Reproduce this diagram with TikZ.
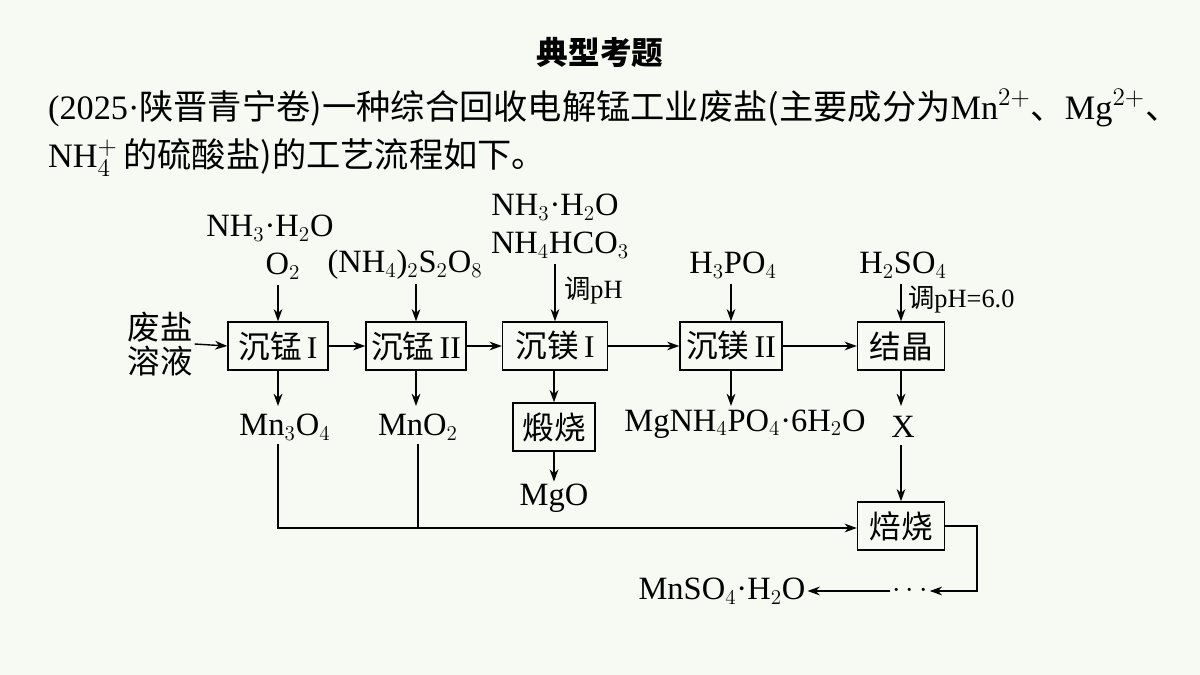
\documentclass[tikz,border=0pt]{standalone}
\usepackage{fontspec}
\setmainfont{Liberation Serif}
\newfontfamily\cjk{Noto Sans CJK SC}
\usetikzlibrary{arrows.meta}
\definecolor{paper}{RGB}{246,250,242}
\tikzset{
  stage/.style={draw, line width=0.8pt, minimum height=0.96cm, inner sep=2pt, font=\fontsize{18}{20}\selectfont},
  chem/.style={font=\fontsize{18.5}{21}\selectfont, inner sep=1pt},
  prose/.style={font=\fontsize{19.5}{22}\selectfont, inner sep=1pt},
  flow/.style={line width=0.8pt, -{Stealth[length=7pt,width=5pt]}},
  pipe/.style={line width=0.8pt}
}
\begin{document}
\begin{tikzpicture}[x=0.02cm,y=-0.02cm]
    % Canvas
    \fill[paper] (0,0) rectangle (1200,675);
    \useasboundingbox (0,0) rectangle (1200,675);

    % Heading and question text
    \node (title) at (600,52) {\fontsize{18}{20}\selectfont\cjk\bfseries 典型考题};
    \node[anchor=west, prose] (line1) at (46,108) {(2025·{\cjk 陕晋青宁卷)一种综合回收电解锰工业废盐(主要成分为}Mn$^{2+}${\cjk 、}Mg$^{2+}${\cjk 、}};
    \node[anchor=west, prose] (line2) at (46,158) {NH$_4^+$\,{\cjk 的硫酸盐)的工艺流程如下。}};

    % Stages
    \node[stage, minimum width=2cm] (mn1) at (278,346) {{\cjk 沉锰}\,I};
    \node[stage, minimum width=2cm] (mn2) at (416,346) {{\cjk 沉锰}\,II};
    \node[stage, minimum width=2.1cm] (mg1) at (555,346) {{\cjk 沉镁}\,I};
    \node[stage, minimum width=2.04cm] (mg2) at (731,346) {{\cjk 沉镁}\,II};
    \node[stage, minimum width=1.74cm] (cry) at (901,346) {\cjk 结晶};
    \node[stage, minimum width=1.64cm] (calc) at (554,427) {\cjk 煅烧};
    \node[stage, minimum width=1.74cm] (roast) at (901,526) {\cjk 焙烧};

    % Feed and reagents
    \node[chem, align=center] (feed) at (160,344) {\cjk 废盐\\[-2pt]\cjk 溶液};
    \node[chem] (r1a) at (270,228) {NH$_3$·H$_2$O};
    \node[chem] (r1b) at (283,266) {O$_2$};
    \node[chem] (r2) at (405,265) {(NH$_4$)$_2$S$_2$O$_8$};
    \node[chem] (r3a) at (555,207) {NH$_3$·H$_2$O};
    \node[chem] (r3b) at (560,245) {NH$_4$HCO$_3$};
    \node[chem] (r4) at (733,265) {H$_3$PO$_4$};
    \node[chem] (r5) at (903,265) {H$_2$SO$_4$};
    \node[chem, anchor=west, font=\fontsize{15}{17}\selectfont] (ph1) at (562,291) {{\cjk 调}pH};
    \node[chem, anchor=west, font=\fontsize{15}{17}\selectfont] (ph2) at (906,300) {{\cjk 调}pH=6.0};

    % Products
    \node[chem] (p1) at (285,427) {Mn$_3$O$_4$};
    \node[chem] (p2) at (418,427) {MnO$_2$};
    \node[chem] (p3) at (745,424) {MgNH$_4$PO$_4$·6H$_2$O};
    \node[chem] (px) at (903,427) {X};
    \node[chem] (mgo) at (554,498) {MgO};
    \node[chem] (dots) at (910,591) {$\cdots$};
    \node[chem] (final) at (722,591) {MnSO$_4$·H$_2$O};

    \coordinate (j1) at (278,528);
    \coordinate (j2) at (418,528);
    \coordinate (c1) at (977,526);
    \coordinate (c2) at (977,591);

    % Main line
    \draw[flow] (feed.east) -- (mn1.west);
    \draw[flow] (mn1) -- (mn2);
    \draw[flow] (mn2) -- (mg1);
    \draw[flow] (mg1) -- (mg2);
    \draw[flow] (mg2) -- (cry);

    % Reagent feeds
    \draw[flow] (278,285) -- (mn1.north);
    \draw[flow] (416,284) -- (mn2.north);
    \draw[flow] (555,264) -- (mg1.north);
    \draw[flow] (731,284) -- (mg2.north);
    \draw[flow] (901,284) -- (cry.north);

    % Products out
    \draw[flow] (mn1.south) -- (278,406);
    \draw[flow] (mn2.south) -- (416,406);
    \draw[flow] (mg1.south -| calc.north) -- (calc.north);
    \draw[flow] (mg2.south) -- (731,406);
    \draw[flow] (cry.south) -- (901,406);
    \draw[flow] (calc.south) -- (mgo.north);

    % Recycle to roasting
    \draw[pipe] (278,444) -- (j1) -- (j2);
    \draw[pipe] (418,444) -- (j2);
    \draw[flow] (j2) -- (j2 -| roast.west);
    \draw[flow] (901,445) -- (roast.north);
    \draw[flow] (roast.east) -- (c1) -- (c2) -- (dots.east);
    \draw[flow] (dots.west) -- (final.east);
\end{tikzpicture}
\end{document}
